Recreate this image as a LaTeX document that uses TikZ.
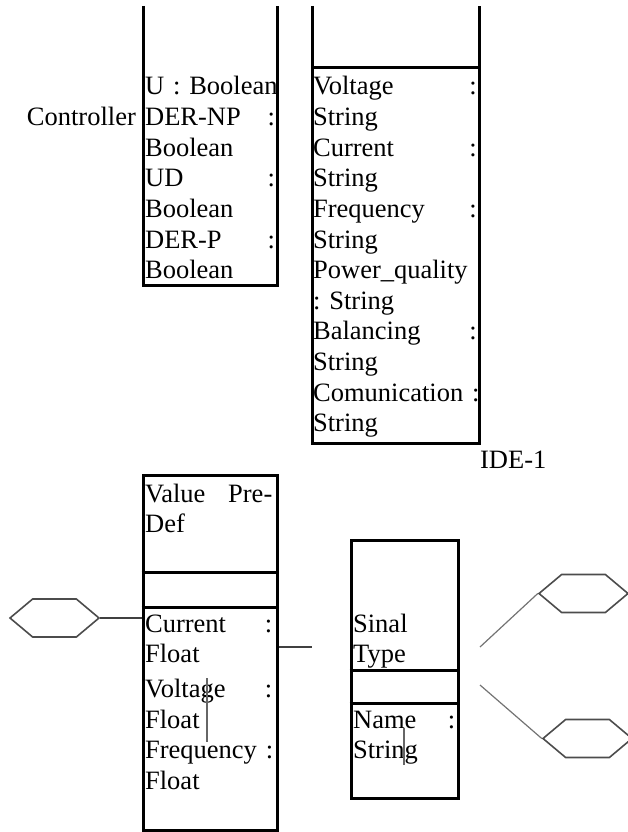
\documentclass[tikz,border=0pt]{standalone}
\usepackage{fontspec}
\newfontfamily\umlfont{Liberation Serif}
\usetikzlibrary{shapes.symbols}

% attribute name with its colon pushed to the right border
\newcommand{\attr}[1]{#1\nobreak\hfill:}

\tikzset{
  txt/.style={font=\umlfont\fontsize{40}{46.2}\selectfont, scale=0.6625, transform shape,
    inner sep=0pt, align=left, anchor=base west},
  frame/.style={draw, line width=3pt, inner sep=0pt},
  hexa/.style={shape=signal, signal to=west and east, signal pointer angle=80,
    draw=black!70, line width=1.6pt, minimum width=89pt, minimum height=38pt, inner sep=0pt},
  link/.style={draw=black!75, line width=1.5pt},
  scratch/.style={draw=black!60, line width=2pt}
}

\begin{document}
\begin{tikzpicture}[x=1pt, y=-1pt]
  \useasboundingbox (0,0) rectangle (628,832);

  % upper classes, open at the top
  \draw[line width=3pt] (143,6) -- (143,285) -- (277,285) -- (277,6);
  \draw[line width=3pt] (312,6) -- (312,443) -- (479,443) -- (479,6);
  \draw[line width=3pt] (312,68) -- (479,68);

  \node[txt, anchor=base east] (ctrl) at (136,125) {Controller};
  \node[txt, text width=196pt] (ctrlattr) at (145,95)
    {U~:~Boolean\\\attr{DER-NP}\\Boolean\\\attr{UD}\\Boolean\\\attr{DER-P}\\Boolean};
  \node[txt, text width=247pt] (ideattr) at (313,95)
    {\attr{Voltage}\\String\\\attr{Current}\\String\\\attr{Frequency}\\String\\
     Power\_quality\\:~String\\\attr{Balancing}\\String\\\attr{Comunication~}\\String};
  \node[txt] (ide) at (480,468) {IDE-1};

  % lower classes
  \node[frame, minimum width=134pt, minimum height=355pt] (valbox) at (210,652.5) {};
  \draw[line width=3pt] (valbox.west |- 0,572) -- (valbox.east |- 0,572);
  \draw[line width=3pt] (valbox.west |- 0,607) -- (valbox.east |- 0,607);
  \node[txt, text width=192pt] (valname) at (145,502) {Value\nobreak\hfill Pre-\\Def};
  \node[txt, text width=192pt] (valattr) at (145,632)
    {\attr{Current}\\Float\\[6.8pt]\attr{Voltage}\\Float\\\attr{Frequency~}\\Float};

  \node[frame, minimum width=107pt, minimum height=258pt] (sigbox) at (404.5,669) {};
  \draw[line width=3pt] (sigbox.west |- 0,670) -- (sigbox.east |- 0,670);
  \draw[line width=3pt] (sigbox.west |- 0,703) -- (sigbox.east |- 0,703);
  \node[txt, text width=154pt] (signame) at (353,632) {Sinal\\Type};
  \node[txt, text width=154pt] (sigattr) at (353,728) {\attr{Name}\\String};

  % hexagons and links
  \node[hexa] (hexL) at (54.5,618) {};
  \node[hexa] (hexUR) at (583.5,593.5) {};
  \node[hexa] (hexLR) at (587.5,738.5) {};

  \coordinate (midend) at (312,647);
  \coordinate (upfoot) at (480,647);
  \coordinate (lowfoot) at (480,685);

  \draw[link] (hexL.east) -- (hexL.east -| valbox.west);
  \draw[link] (midend -| valbox.east) -- (midend);
  \draw[link, draw=black!55, line width=1.2pt] (upfoot) -- (hexUR.west);
  \draw[link, draw=black!55, line width=1.2pt] (lowfoot) -- (hexLR.west);

  \draw[scratch] (207,678) -- (207,742);
  \draw[scratch] (404,728) -- (404,765);
\end{tikzpicture}
\end{document}
